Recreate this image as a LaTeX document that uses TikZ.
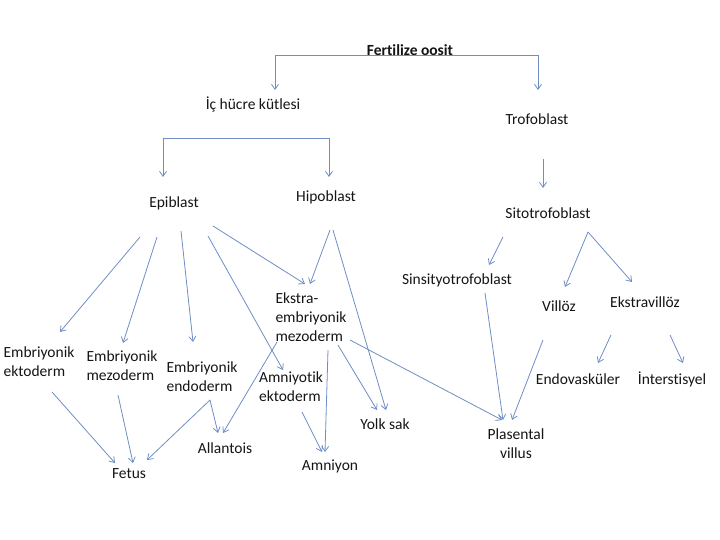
\documentclass[tikz,border=0pt]{standalone}
\usepackage{fontspec}
\setmainfont[Ligatures=NoCommon]{Carlito}
\usetikzlibrary{arrows.meta}

\definecolor{arrowColor}{RGB}{110,142,196}
\definecolor{textColor}{RGB}{20,20,20}

\begin{document}
\begin{tikzpicture}[x=1pt,y=-1pt,
    lbl/.style={inner sep=0pt,text=textColor,font=\fontsize{15.5}{19}\selectfont},
    arr/.style={draw=arrowColor,line width=0.8pt,-{Straight Barb[length=5pt,width=7pt]}}]
  \useasboundingbox (0,0) rectangle (720,540);
  % Top levels
  \node[lbl,font=\fontsize{15.5}{19}\selectfont\bfseries] (fert) at (410,50) {Fertilize oosit};
  \node[lbl] (ic) at (253,104) {İç hücre kütlesi};
  \node[lbl] (trof) at (537,119) {Trofoblast};
  \node[lbl] (epi) at (174,203) {Epiblast};
  \node[lbl] (hipo) at (326,197) {Hipoblast};
  \node[lbl] (sito) at (548,213) {Sitotrofoblast};
  % Embryo side
  \node[lbl,align=left] (ekto) at (39,362) {Embriyonik\\ektoderm};
  \node[lbl,align=left] (emez) at (122,366) {Embriyonik\\mezoderm};
  \node[lbl,align=left] (endo) at (202,377) {Embriyonik\\endoderm};
  \node[lbl,align=left] (amnek) at (291,387) {Amniyotik\\ektoderm};
  \node[lbl,align=left] (ekmez) at (311,317) {Ekstra-\\embriyonik\\mezoderm};
  \node[lbl] (allan) at (225,448) {Allantois};
  \node[lbl] (fetus) at (129,474) {Fetus};
  \node[lbl] (amniyon) at (330,466) {Amniyon};
  \node[lbl] (yolk) at (385,424) {Yolk sak};
  % Trophoblast side
  \node[lbl] (sinsi) at (457,280) {Sinsityotrofoblast};
  \node[lbl] (villoz) at (559,306) {Villöz};
  \node[lbl] (ekvil) at (645,302) {Ekstravillöz};
  \node[lbl] (endov) at (578,379) {Endovasküler};
  \node[lbl] (inter) at (672,379) {İnterstisyel};
  \node[lbl,align=center] (plas) at (516,444) {Plasental\\villus};
  % Brackets
  \draw[arr] ([shift={(0,5)}]fert.center) -| ([shift={(22,-14)}]ic.center);
  \draw[arr] ([shift={(0,5)}]fert.center) -| ([shift={(1,-29)}]trof.center);
  \draw[arr] ([shift={(0,34)}]ic.center) -| ([shift={(-11,-26)}]epi.center);
  \draw[arr] ([shift={(0,34)}]ic.center) -| ([shift={(3,-20)}]hipo.center);
  \draw[arr] ([shift={(6,40)}]trof.center) -- ([shift={(-5,-25)}]sito.center);
  % From epiblast
  \draw[arr] ([shift={(-34,34)}]epi.center) -- ([shift={(21,-30)}]ekto.center);
  \draw[arr] ([shift={(-17,34)}]epi.center) -- ([shift={(1,-23)}]emez.center);
  \draw[arr] ([shift={(7,28)}]epi.center) -- ([shift={(-9,-35)}]endo.center);
  \draw[arr] ([shift={(34,33)}]epi.center) -- ([shift={(-8,-17)}]amnek.center);
  \draw[arr] ([shift={(39,23)}]epi.center) -- ([shift={(-6,-33)}]ekmez.center);
  % From hipoblast
  \draw[arr] ([shift={(4,33)}]hipo.center) -- ([shift={(-1,-33)}]ekmez.center);
  \draw[arr] ([shift={(7,33)}]hipo.center) -- ([shift={(1,-14)}]yolk.center);
  % Lower left
  \draw[arr] ([shift={(13,30)}]ekto.center) -- ([shift={(-14,-11)}]fetus.center);
  \draw[arr] ([shift={(-4,29)}]emez.center) -- ([shift={(4,-11)}]fetus.center);
  \draw[arr] ([shift={(8,23)}]endo.center) -- ([shift={(18,-14)}]fetus.center);
  \draw[arr] ([shift={(8,23)}]endo.center) -- ([shift={(-7,-15)}]allan.center);
  \draw[arr] ([shift={(-34,25)}]ekmez.center) -- ([shift={(-2,-15)}]allan.center);
  \draw[arr] ([shift={(17,33)}]ekmez.center) -- ([shift={(-5,-14)}]amniyon.center);
  \draw[arr] ([shift={(11,25)}]amnek.center) -- ([shift={(-8,-14)}]amniyon.center);
  \draw[arr] ([shift={(27,28)}]ekmez.center) -- ([shift={(-8,-14)}]yolk.center);
  \draw[arr] ([shift={(39,23)}]ekmez.center) -- ([shift={(-14,-24)}]plas.center);
  % From sitotrofoblast
  \draw[arr] ([shift={(-45,24)}]sito.center) -- ([shift={(32,-15)}]sinsi.center);
  \draw[arr] ([shift={(40,19)}]sito.center) -- ([shift={(6,-19)}]villoz.center);
  \draw[arr] ([shift={(40,19)}]sito.center) -- ([shift={(-13,-20)}]ekvil.center);
  \draw[arr] ([shift={(-34,33)}]ekvil.center) -- ([shift={(20,-16)}]endov.center);
  \draw[arr] ([shift={(25,33)}]ekvil.center) -- ([shift={(11,-16)}]inter.center);
  \draw[arr] ([shift={(28,13)}]sinsi.center) -- ([shift={(-13,-24)}]plas.center);
  \draw[arr] ([shift={(-16,34)}]villoz.center) -- ([shift={(-4,-24)}]plas.center);
\end{tikzpicture}
\end{document}
